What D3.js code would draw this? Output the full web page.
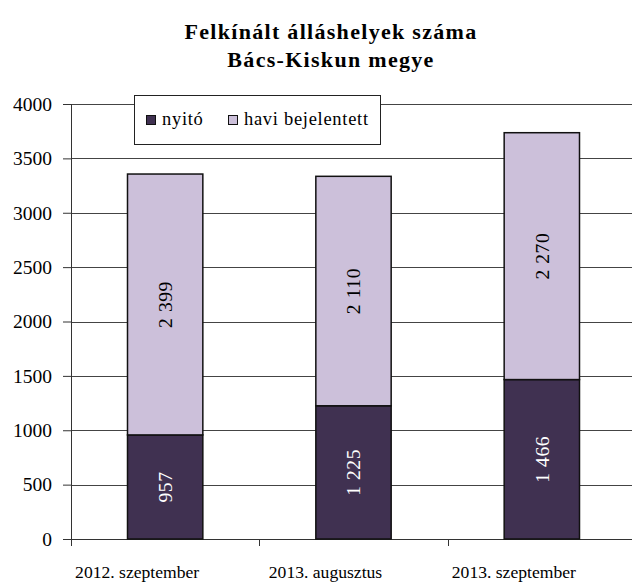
<!DOCTYPE html>
<meta charset="utf-8">
<style>
    body { margin: 0; background: #fff; }
    svg text { font-family: "Liberation Serif", "Times New Roman", Times, serif; }
</style>
<script src="https://d3js.org/d3.v7.min.js"></script>
<body>
<div id="chart"></div>
<script>
    var titleLines = ["Felkínált álláshelyek száma", "Bács-Kiskun megye"];
    var categories = ["2012. szeptember", "2013. augusztus", "2013. szeptember"];
    var nyito = [957, 1225, 1466];
    var haviBejelentett = [2399, 2110, 2270];
    var seriesNames = ["nyitó", "havi bejelentett"];
    var yTicks = [0, 500, 1000, 1500, 2000, 2500, 3000, 3500, 4000];

    var colors = ["#403151", "#ccc0da"];
    var serif = "'Liberation Serif', 'Times New Roman', Times, serif";

    var svg = d3.select("#chart").append("svg")
        .attr("width", 632)
        .attr("height", 582)
        .attr("font-family", serif);

    var margin = {top: 104, left: 71},
        width = 565,
        height = 435;

    var x = d3.scaleBand().domain(categories).range([0, width]).paddingInner(0.6).paddingOuter(0.3);
    var xCat = d3.scaleBand().domain(categories).range([0, width]);
    var y = d3.scaleLinear().domain([0, 4000]).range([height, 0]);

    var data = categories.map(function(c, i) {
        return {cat: c, nyito: nyito[i], havi: haviBejelentett[i]};
    });
    var stacked = d3.stack().keys(["nyito", "havi"])(data);

    // title
    svg.append("g").selectAll("text")
        .data(titleLines)
        .enter().append("text")
        .attr("x", 331)
        .attr("y", function(d, i) { return 39 + i * 28; })
        .attr("text-anchor", "middle")
        .style("font-family", serif)
        .style("font-size", "22px")
        .style("font-weight", "bold")
        .style("letter-spacing", "1.3px")
        .text(function(d) { return d; });

    var g = svg.append("g")
        .attr("transform", "translate(" + margin.left + "," + margin.top + ")");

    // gridlines
    g.append("g")
        .selectAll("line")
        .data(yTicks.slice(1))
        .enter().append("line")
        .attr("x1", 0)
        .attr("x2", width)
        .attr("y1", function(d) { return Math.round(y(d)) + 0.5; })
        .attr("y2", function(d) { return Math.round(y(d)) + 0.5; })
        .attr("stroke", "#444")
        .attr("stroke-width", 1);

    // y axis
    var yAxis = g.append("g")
        .call(d3.axisLeft(y).tickValues(yTicks).tickSize(8).tickPadding(11).tickFormat(d3.format("d")));
    yAxis.attr("font-family", serif);
    yAxis.select(".domain").attr("stroke", "#333").attr("d", "M0.5," + (height + 6) + "V0");
    yAxis.selectAll(".tick line").attr("stroke", "#333");
    yAxis.selectAll("text")
        .style("font-family", serif)
        .style("font-size", "19.5px")
        .attr("fill", "#000");

    // x axis
    var xAxisG = g.append("g").attr("transform", "translate(0," + height + ")");
    xAxisG.append("line")
        .attr("x1", 0).attr("x2", width)
        .attr("y1", 0.5).attr("y2", 0.5)
        .attr("stroke", "#333");
    xAxisG.selectAll(".ctick")
        .data(categories)
        .enter().append("line")
        .attr("class", "ctick")
        .attr("x1", function(d) { return Math.round(xCat(d)) + 0.5; })
        .attr("x2", function(d) { return Math.round(xCat(d)) + 0.5; })
        .attr("y1", 0).attr("y2", 7)
        .attr("stroke", "#333");
    xAxisG.selectAll(".clabel")
        .data(categories)
        .enter().append("text")
        .attr("class", "clabel")
        .attr("x", function(d) { return xCat(d) + xCat.bandwidth() / 2 - 28; })
        .attr("y", 39)
        .attr("text-anchor", "middle")
        .style("font-family", serif)
        .style("font-size", "17.6px")
        .text(function(d) { return d; });

    // bars
    var layers = g.selectAll(".layer")
        .data(stacked)
        .enter().append("g")
        .attr("class", "layer")
        .attr("fill", function(d, i) { return colors[i]; });

    layers.selectAll("rect")
        .data(function(d) { return d; })
        .enter().append("rect")
        .attr("x", function(d) { return x(d.data.cat); })
        .attr("width", x.bandwidth())
        .attr("y", function(d) { return y(d[1]); })
        .attr("height", function(d) { return y(d[0]) - y(d[1]); })
        .attr("stroke", "#111")
        .attr("stroke-width", 1.5);

    // value labels
    var fmt = function(v) { return d3.format(",")(v).replace(",", " "); };
    layers.each(function(layer, li) {
        d3.select(this).selectAll(".vlabel")
            .data(layer)
            .enter().append("text")
            .attr("class", "vlabel")
            .attr("transform", function(d) {
                var cx = x(d.data.cat) + x.bandwidth() / 2;
                var cy = (y(d[0]) + y(d[1])) / 2;
                return "translate(" + cx + "," + cy + ") rotate(-90)";
            })
            .attr("text-anchor", "middle")
            .attr("dy", "0.35em")
            .attr("fill", li === 0 ? "#fff" : "#000")
            .style("font-family", serif)
            .style("font-size", "19.5px")
            .style("letter-spacing", "0.6px")
            .text(function(d) { return fmt(d[1] - d[0]); });
    });

    // legend
    var legend = svg.append("g").attr("transform", "translate(134,95)");
    legend.append("rect")
        .attr("x", 0.5).attr("y", 0.5)
        .attr("width", 246).attr("height", 49)
        .attr("fill", "#fff")
        .attr("stroke", "#222");
    var items = legend.selectAll(".item")
        .data(seriesNames)
        .enter().append("g")
        .attr("class", "item")
        .attr("transform", function(d, i) { return "translate(" + (12 + i * 82) + ",0)"; });
    items.append("rect")
        .attr("x", 0.5).attr("y", 20.5)
        .attr("width", 9).attr("height", 9)
        .attr("fill", function(d, i) { return colors[i]; })
        .attr("stroke", "#111");
    items.append("text")
        .attr("x", 16)
        .attr("y", 30)
        .style("font-family", serif)
        .style("font-size", "18.5px")
        .style("letter-spacing", "0.7px")
        .text(function(d) { return d; });
</script>
</body>
